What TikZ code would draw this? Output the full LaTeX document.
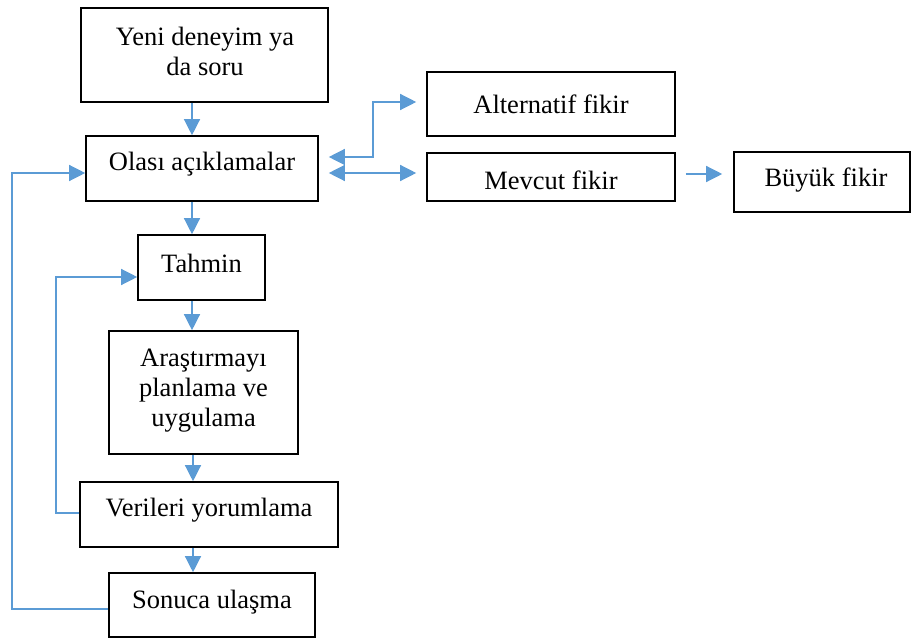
\documentclass[tikz,border=0pt]{standalone}
\usepackage{fontspec}
\setmainfont{Liberation Serif}
\usetikzlibrary{arrows.meta}
\definecolor{linkblue}{HTML}{5B9BD5}
\tikzset{
  x=1pt, y=-1pt,
  box/.style={draw=black, line width=1.6pt, rectangle, inner sep=0pt},
  lbl/.style={font=\fontsize{26.5}{30}\selectfont, align=center, inner sep=0pt},
  tip/.style={Triangle[length=16pt,width=16pt]},
  arr/.style={draw=linkblue, line width=1.3pt, -{Triangle[length=16pt,width=16pt]}},
  darr/.style={draw=linkblue, line width=1.3pt, {Triangle[length=16pt,width=16pt]}-{Triangle[length=16pt,width=16pt]}}
}
\begin{document}
\begin{tikzpicture}
\useasboundingbox (0,0) rectangle (912,639);
% boxes
\node[box, minimum width=247pt, minimum height=94pt] (yeni) at (204.5,55) {};
\node[box, minimum width=232pt, minimum height=65pt] (olasi) at (202,168.5) {};
\node[box, minimum width=248pt, minimum height=64pt] (alt) at (551,104) {};
\node[box, minimum width=248pt, minimum height=48pt] (mevcut) at (551,177) {};
\node[box, minimum width=176pt, minimum height=60pt] (buyuk) at (822,182) {};
\node[box, minimum width=127pt, minimum height=65pt] (tahmin) at (201.5,267.5) {};
\node[box, minimum width=189pt, minimum height=123pt] (arastirma) at (203.5,392.5) {};
\node[box, minimum width=258pt, minimum height=65pt] (verileri) at (209,514.5) {};
\node[box, minimum width=206pt, minimum height=64pt] (sonuca) at (212,605) {};
% labels
\node[lbl] (yeniT) at (205,51) {Yeni deneyim ya\\da soru};
\node[lbl] (olasiT) at (202,164) {Olası açıklamalar};
\node[lbl] (altT) at (551,104) {Alternatif fikir};
\node[lbl] (mevcutT) at (551,180) {Mevcut fikir};
\node[lbl] (buyukT) at (826,180) {Büyük fikir};
\node[lbl] (tahminT) at (201.5,263) {Tahmin};
\node[lbl] (arastirmaT) at (203.5,391) {Araştırmayı\\planlama ve\\uygulama};
\node[lbl] (verileriT) at (209,510) {Verileri yorumlama};
\node[lbl] (sonucaT) at (212,602) {Sonuca ulaşma};
% helper coordinates
\coordinate (xa) at (192,0);
\coordinate (xb) at (193,0);
\coordinate (lx1) at (12,0);
\coordinate (lx2) at (56,0);
\coordinate (vx) at (373,0);
% vertical flow
\draw[arr] (yeni.south -| xa) -- (olasi.north -| xa);
\draw[arr] (olasi.south -| xa) -- (tahmin.north -| xa);
\draw[arr] (tahmin.south -| xa) -- (arastirma.north -| xa);
\draw[arr] (arastirma.south -| xb) -- (verileri.north -| xb);
\draw[arr] (verileri.south -| xb) -- (sonuca.north -| xb);
% feedback loops
\coordinate (s1) at ([yshift=-4pt]sonuca.west);
\coordinate (e1) at ([yshift=-4.5pt]olasi.west);
\draw[arr] (s1) -- (s1 -| lx1) -- (e1 -| lx1) -- (e1);
\coordinate (s2) at ([yshift=1.5pt]verileri.west);
\coordinate (e2) at ([yshift=-9.5pt]tahmin.west);
\draw[arr] (s2) -- (s2 -| lx2) -- (e2 -| lx2) -- (e2);
% side arrows
\coordinate (d1) at ([yshift=-4.5pt]olasi.east);
\draw[darr, shorten <=10pt, shorten >=10pt] (d1) -- (d1 -| mevcut.west);
\coordinate (d2) at ([yshift=11.5pt]olasi.east);
\coordinate (d3) at ([yshift=2pt]alt.west);
\draw[darr, shorten <=10pt, shorten >=10pt] (d2) -- (d2 -| vx) -- (d3 -| vx) -- (d3);
\coordinate (m1) at ([yshift=3pt]mevcut.east);
\draw[arr, shorten <=10pt, shorten >=11pt] (m1) -- (m1 -| buyuk.west);
\end{tikzpicture}
\end{document}
